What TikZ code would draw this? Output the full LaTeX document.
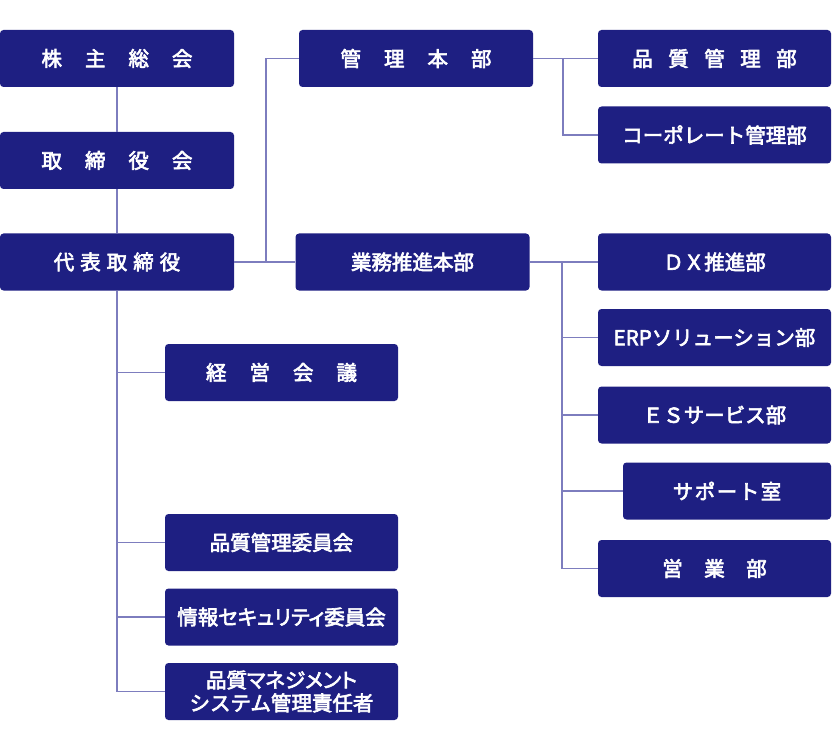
\documentclass[tikz,border=0pt]{standalone}
\usepackage{fontspec}
\setmainfont{Noto Sans CJK JP}[FakeBold=3]
\newfontfamily\jpp[RawFeature=+palt,FakeBold=3]{Noto Sans CJK JP}
\definecolor{navy}{RGB}{30,31,130}
\definecolor{linec}{RGB}{125,125,190}
\newcommand{\gapx}[1]{\hspace{#1pt}}
\begin{document}
\begin{tikzpicture}[x=1pt,y=-1pt,
  box/.style={fill=navy,draw=none,rounded corners=3.5pt,minimum height=57pt,
    text=white,font=\fontsize{20.5}{23}\selectfont,align=center,inner sep=0pt},
  wbox/.style={box,minimum width=234pt},
  conn/.style={draw=linec,line width=1.4pt}]
\useasboundingbox (0,0) rectangle (833,730);
% left column
\node[wbox] (kabu) at (117,58.5) {株\gapx{23}主\gapx{23}総\gapx{23}会};
\node[wbox] (tori) at (117,160.5) {取\gapx{23}締\gapx{23}役\gapx{23}会};
\node[wbox] (daihyo) at (117,262) {代\gapx{6}表\gapx{6}取\gapx{6}締\gapx{6}役};
% middle
\node[wbox] (kanri) at (416,58.5) {管\gapx{23}理\gapx{23}本\gapx{23}部};
\node[wbox] (gyomu) at (412.5,262) {業務推進本部};
% right
\node[wbox,minimum width=233pt] (hinkan) at (714.5,58.5) {品\gapx{15.5}質\gapx{15.5}管\gapx{15.5}理\gapx{15.5}部};
\node[wbox,minimum width=233pt] (corp) at (714.5,135) {コーポレート管理部};
\node[wbox,minimum width=233pt] (dx) at (714.5,262) {ＤＸ推進部};
\node[wbox,minimum width=233pt] (erp) at (714.5,337.5) {ERPソリューション部};
\node[wbox,minimum width=233pt] (es) at (714.5,415) {ＥＳサービス部};
\node[box,minimum width=208pt] (sup) at (727,491) {サ\gapx{1.5}ポ\gapx{1.5}ー\gapx{1.5}ト\gapx{1.5}室};
\node[wbox,minimum width=233pt] (eigyo) at (714.5,568.5) {営\gapx{21.5}業\gapx{21.5}部};
% lower left
\node[wbox,minimum width=233pt] (keiei) at (281.5,372.5) {経\gapx{23}営\gapx{23}会\gapx{23}議};
\node[wbox,minimum width=233pt] (qc) at (281.5,542.5) {品質管理委員会};
\node[wbox,minimum width=233pt] (isec) at (281.5,617) {{\jpp 情報セキュリティ委員会}};
\node[wbox,minimum width=233pt] (qms) at (281.5,691.5) {{\jpp 品質マネジメント}\\システム管理責任者};
% junctions
\coordinate (jl) at (266,262);
\coordinate (jk) at (563,58.5);
\coordinate (jg) at (562,262);
% connectors
\draw[conn] (kabu.south) -- (tori.north);
\draw[conn] (tori.south) -- (daihyo.north);
\draw[conn] (daihyo.east) -- (gyomu.west);
\draw[conn] (kanri.west) -| (jl);
\draw[conn] (kanri.east) -- (hinkan.west);
\draw[conn] (jk) |- (corp.west);
\draw[conn] (gyomu.east) -- (dx.west);
\draw[conn] (jg) |- (erp.west);
\draw[conn] (jg) |- (es.west);
\draw[conn] (jg) |- (sup.west);
\draw[conn] (jg) |- (eigyo.west);
\draw[conn] (daihyo.south) |- (keiei.west);
\draw[conn] (daihyo.south) |- (qc.west);
\draw[conn] (daihyo.south) |- (isec.west);
\draw[conn] (daihyo.south) |- (qms.west);
\end{tikzpicture}
\end{document}
